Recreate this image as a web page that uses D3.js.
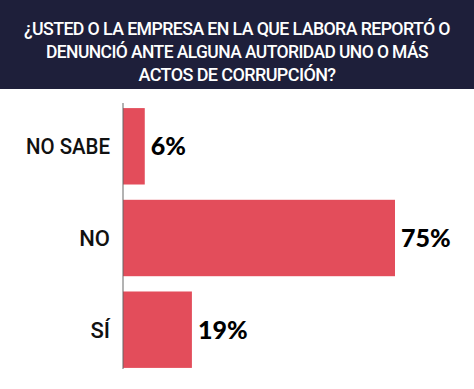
<!DOCTYPE html>
<html>
<head>
<meta charset="utf-8">
<script src="https://cdn.jsdelivr.net/npm/d3@7"></script>
<style>
  body { margin: 0; background: #fff; }
  svg { display: block; }
</style>
</head>
<body>
<svg id="chart" width="474" height="389"></svg>
<script>
// data
const titleLines = [
  "¿USTED O LA EMPRESA EN LA QUE LABORA REPORTÓ O",
  "DENUNCIÓ ANTE ALGUNA AUTORIDAD UNO O MÁS",
  "ACTOS DE CORRUPCIÓN?"
];
const categories = ["NO SABE", "NO", "SÍ"];
const values = [6, 75, 19];

const svg = d3.select("#chart"),
    width = +svg.attr("width"),
    height = +svg.attr("height");

// header band
svg.append("rect")
    .attr("x", 0).attr("y", 0)
    .attr("width", width).attr("height", 89)
    .attr("fill", "#1e1f3a");

// widths measured on the reference, so the narrow title font fits
const titleWidths = [426, 382, 197];
svg.append("g")
    .selectAll("text")
    .data(titleLines)
    .enter().append("text")
    .attr("x", width / 2)
    .attr("y", function(d, i) { return 34.5 + i * 23.3; })
    .attr("text-anchor", "middle")
    .attr("fill", "#fff")
    .style("font-family", "Roboto, sans-serif")
    .style("font-weight", 500)
    .style("font-size", "18px")
    .style("letter-spacing", "-0.6px")
    .attr("textLength", function(d, i) { return titleWidths[i]; })
    .attr("lengthAdjust", "spacingAndGlyphs")
    .text(function(d) { return d; });

const margin = {left: 123, top: 103, bottom: 25};

const x = d3.scaleLinear()
    .domain([0, 75])
    .range([margin.left, 395]);

const y = d3.scaleBand()
    .domain(categories)
    .range([margin.top, margin.top + 270])
    .paddingInner(1 / 6)
    .paddingOuter(1 / 18);

// bars
svg.append("g")
    .selectAll("rect")
    .data(values)
    .enter().append("rect")
    .attr("x", x(0))
    .attr("y", function(d, i) { return y(categories[i]); })
    .attr("width", function(d) { return x(d) - x(0); })
    .attr("height", y.bandwidth())
    .attr("fill", "#e34d5b");

// vertical axis line
svg.append("line")
    .attr("x1", x(0)).attr("x2", x(0))
    .attr("y1", margin.top).attr("y2", 369)
    .attr("stroke", "#666")
    .attr("stroke-width", 1);

// category labels
svg.append("g")
    .selectAll("text")
    .data(categories)
    .enter().append("text")
    .attr("x", 110)
    .attr("y", function(d) { return y(d) + y.bandwidth() / 2 + 8; })
    .attr("text-anchor", "end")
    .attr("fill", "#111")
    .style("font-family", "Roboto, sans-serif")
    .style("font-weight", 500)
    .style("font-size", "22px")
    .attr("textLength", function(d) { return d === "NO SABE" ? 84 : null; })
    .attr("lengthAdjust", "spacingAndGlyphs")
    .text(function(d) { return d; });

// value labels
svg.append("g")
    .selectAll("text")
    .data(values)
    .enter().append("text")
    .attr("x", function(d) { return x(d) + 6; })
    .attr("y", function(d, i) { return y(categories[i]) + y.bandwidth() / 2 + 9; })
    .attr("fill", "#000")
    .style("font-family", "Lato, 'Open Sans', sans-serif")
    .style("font-weight", 900)
    .style("font-size", "25px")
    .text(function(d) { return d + "%"; });
</script>
</body>
</html>
